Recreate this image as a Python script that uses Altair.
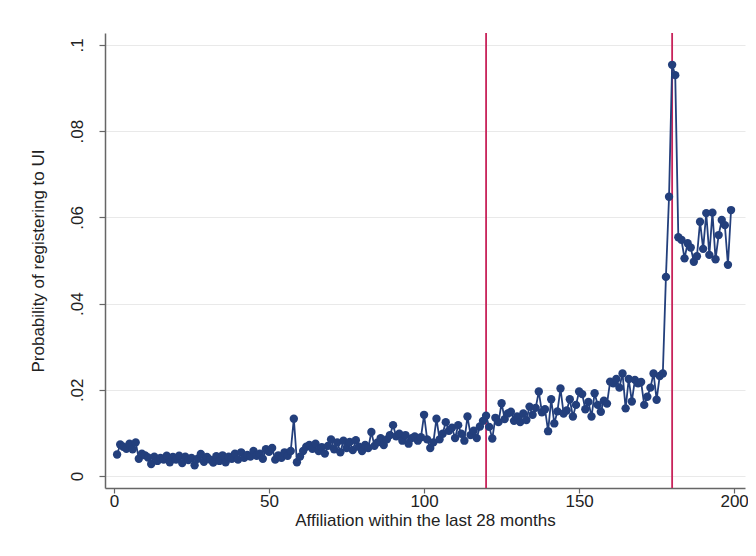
import altair as alt
import pandas as pd

months = list(range(1, 200))
prob = [
    0.0050, 0.0073, 0.0068, 0.0063, 0.0075, 0.0062, 0.0078, 0.0040, 0.0052, 0.0048,
    0.0043, 0.0028, 0.0045, 0.0035, 0.0042, 0.0038, 0.0047, 0.0032, 0.0044, 0.0038,
    0.0047, 0.0030, 0.0045, 0.0037, 0.0042, 0.0025, 0.0040, 0.0051, 0.0033, 0.0044,
    0.0038, 0.0031, 0.0046, 0.0035, 0.0048, 0.0032, 0.0045, 0.0040, 0.0052, 0.0038,
    0.0055, 0.0042, 0.0049, 0.0045, 0.0058, 0.0047, 0.0052, 0.0040, 0.0062, 0.0056,
    0.0065, 0.0038, 0.0048, 0.0042, 0.0055, 0.0047, 0.0058, 0.0133, 0.0032, 0.0045,
    0.0058, 0.0068, 0.0072, 0.0063, 0.0075, 0.0058, 0.0067, 0.0052, 0.0070, 0.0085,
    0.0062, 0.0078, 0.0055, 0.0082, 0.0065, 0.0079, 0.0060, 0.0083, 0.0068, 0.0058,
    0.0072, 0.0065, 0.0102, 0.0070, 0.0078, 0.0088, 0.0072, 0.0085, 0.0095, 0.0118,
    0.0092, 0.0098, 0.0082, 0.0095, 0.0075, 0.0088, 0.0092, 0.0082, 0.0090, 0.0142,
    0.0085, 0.0065, 0.0078, 0.0133, 0.0085, 0.0098, 0.0125, 0.0105, 0.0112, 0.0088,
    0.0118, 0.0098, 0.0082, 0.0138, 0.0095, 0.0105, 0.0088, 0.0115, 0.0128, 0.0140,
    0.0114, 0.0087, 0.0135, 0.0125, 0.0169, 0.0132, 0.0145, 0.0149, 0.0128, 0.0138,
    0.0125, 0.0145, 0.0130, 0.0161, 0.0142, 0.0158, 0.0196, 0.0148, 0.0155, 0.0104,
    0.0178, 0.0122, 0.0150, 0.0203, 0.0145, 0.0152, 0.0178, 0.0138, 0.0165, 0.0196,
    0.0190, 0.0155, 0.0172, 0.0138, 0.0192, 0.0165, 0.0149, 0.0175, 0.0168, 0.0219,
    0.0215, 0.0225, 0.0205, 0.0238, 0.0157, 0.0225, 0.0173, 0.0223, 0.0215, 0.0218,
    0.0165, 0.0184, 0.0205, 0.0238, 0.0177, 0.0232, 0.0238, 0.0462, 0.0648, 0.0954,
    0.0930, 0.0554, 0.0548, 0.0505, 0.0540, 0.0530, 0.0497, 0.0510, 0.0590, 0.0527,
    0.0610, 0.0513, 0.0611, 0.0503, 0.0559, 0.0594, 0.0582, 0.0490, 0.0617,
]
cutoffs = [120, 180]
x_ticks = [0, 50, 100, 150, 200]
y_ticks = [0, 0.02, 0.04, 0.06, 0.08, 0.1]

df = pd.DataFrame({"month": months, "prob": prob})
cut_df = pd.DataFrame({"cut": cutoffs})

NAVY = "#233f7c"
RED = "#c8235a"

x_scale = alt.Scale(domain=[-2.9, 203.5], nice=False, zero=False)
y_scale = alt.Scale(domain=[-0.00278, 0.10278], nice=False, zero=False)

x_axis = alt.Axis(
    title="Affiliation within the last 28 months",
    values=x_ticks, grid=False, tickSize=5, labelPadding=0,
    titlePadding=3, labelFontSize=17, titleFontSize=17,
)
y_axis = alt.Axis(
    title="Probability of registering to UI",
    values=y_ticks, grid=True, gridColor="#e9e9e9", gridWidth=1.2,
    tickSize=6, labelAngle=270, labelAlign="center", labelBaseline="bottom",
    labelPadding=13, titlePadding=21, labelFontSize=17, titleFontSize=17,
    labelExpr="datum.value == 0 ? '0' : substring(format(datum.value, '.2~f'), 1)",
)

base = alt.Chart(df)

line = base.mark_line(color=NAVY, strokeWidth=1.8).encode(
    x=alt.X("month:Q", scale=x_scale, axis=x_axis),
    y=alt.Y("prob:Q", scale=y_scale, axis=y_axis),
)
points = base.mark_point(filled=True, color=NAVY, size=70, opacity=1).encode(
    x=alt.X("month:Q", scale=x_scale),
    y=alt.Y("prob:Q", scale=y_scale),
)
rules = alt.Chart(cut_df).mark_rule(color=RED, strokeWidth=1.8).encode(
    x=alt.X("cut:Q", scale=x_scale),
)

chart = (
    alt.layer(rules, line, points)
    .properties(
        width=640, height=455,
        padding={"left": 97, "top": 25, "right": 3, "bottom": 55},
        autosize=alt.AutoSizeParams(type="none"),
        background="white",
    )
    .configure_view(stroke=None)
    .configure_axis(
        labelFont="Liberation Sans", titleFont="Liberation Sans",
        labelColor="#222222", titleColor="#222222", titleFontWeight="normal",
        domainColor="#666666", domainWidth=1.5, tickColor="#666666", tickWidth=1.2,
    )
)

chart.save("out.html", embed_options={"renderer": "svg", "actions": False})
